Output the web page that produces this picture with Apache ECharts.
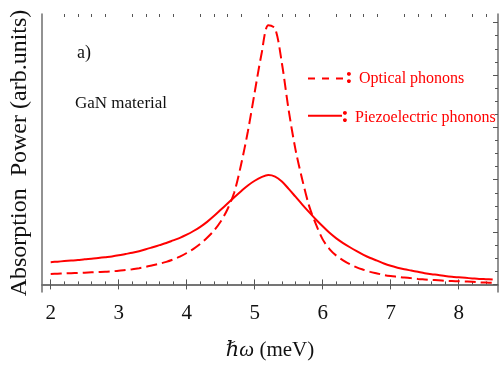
<!DOCTYPE html>
<html>
<head>
<meta charset="utf-8">
<script src="https://cdn.jsdelivr.net/npm/echarts@6/dist/echarts.min.js"></script>
<style>
  html, body { margin: 0; padding: 0; background: #fff; }
  #chart { width: 499px; height: 366px; }
</style>
</head>
<body>
<div id="chart"></div>
<script>
// photon energy (meV), 0.1 steps, shared by both curves
const energy = [2.0, 2.1, 2.2, 2.3, 2.4, 2.5, 2.6, 2.7, 2.8, 2.9,
  3.0, 3.1, 3.2, 3.3, 3.4, 3.5, 3.6, 3.7, 3.8, 3.9,
  4.0, 4.1, 4.2, 4.3, 4.4, 4.5, 4.6, 4.7, 4.8, 4.9,
  5.0, 5.1, 5.2, 5.3, 5.4, 5.5, 5.6, 5.7, 5.8, 5.9,
  6.0, 6.1, 6.2, 6.3, 6.4, 6.5, 6.6, 6.7, 6.8, 6.9,
  7.0, 7.1, 7.2, 7.3, 7.4, 7.5, 7.6, 7.7, 7.8, 7.9,
  8.0, 8.1, 8.2, 8.3, 8.4, 8.5]
const optical = [0.040, 0.041, 0.042, 0.043, 0.044, 0.045, 0.046, 0.047, 0.048, 0.050,
  0.052, 0.055, 0.058, 0.062, 0.067, 0.073, 0.079, 0.086, 0.095, 0.106,
  0.120, 0.136, 0.155, 0.178, 0.205, 0.240, 0.287, 0.352, 0.458, 0.585,
  0.734, 0.880, 0.990, 0.978, 0.845, 0.665, 0.515, 0.400, 0.300, 0.230,
  0.172, 0.135, 0.110, 0.092, 0.077, 0.065, 0.056, 0.048, 0.042, 0.036,
  0.032, 0.029, 0.026, 0.024, 0.021, 0.019, 0.017, 0.016, 0.014, 0.013,
  0.012, 0.011, 0.010, 0.008, 0.007, 0.006]
const piezo = [0.085, 0.087, 0.089, 0.091, 0.093, 0.096, 0.098, 0.101, 0.104, 0.107,
  0.111, 0.116, 0.121, 0.127, 0.134, 0.142, 0.150, 0.158, 0.168, 0.178,
  0.190, 0.204, 0.220, 0.239, 0.261, 0.285, 0.309, 0.333, 0.356, 0.378,
  0.396, 0.410, 0.418, 0.412, 0.393, 0.365, 0.335, 0.305, 0.276, 0.248,
  0.222, 0.197, 0.176, 0.158, 0.142, 0.127, 0.113, 0.101, 0.091, 0.080,
  0.071, 0.064, 0.058, 0.053, 0.048, 0.043, 0.039, 0.036, 0.032, 0.029,
  0.027, 0.025, 0.023, 0.021, 0.020, 0.019]
const xTicks = [2, 3, 4, 5, 6, 7, 8]
const yTicks = [0, 0.2, 0.4, 0.6, 0.8, 1.0]

const xMinor = []
for (let i = 1; i <= 32; i++) {
  const v = +(2 + i * 0.2).toFixed(2)
  if (Math.abs(v - Math.round(v)) > 1e-6 && v < 8.5) xMinor.push(v)
}
const yMinor = []
for (let i = 1; i < 20; i++) {
  if (i % 4 !== 0) yMinor.push(+(i * 0.05).toFixed(2))
}

const serif = 'Liberation Serif, DejaVu Serif, serif'
const frame = { show: true, lineStyle: { color: '#6e6e6e', width: 1.5 } }
const red = '#ff0000'

const pairs = vals => energy.map((x, i) => [x, vals[i]])

const chart = echarts.init(document.getElementById('chart'))
const option = {
  animation: false,
  grid: { left: 42, right: 1, top: 14, bottom: 70 },
  xAxis: [
    {
      type: 'value', position: 'bottom', min: 1.872, max: 8.578,
      axisLine: frame, splitLine: { show: false },
      axisTick: { show: true, inside: true, length: 5, customValues: xTicks, lineStyle: { color: '#555' } },
      axisLabel: { customValues: xTicks, margin: 11, fontFamily: serif, fontSize: 21, color: '#111' },
      name: '{i|ℏω} (meV)', nameLocation: 'middle', nameGap: 48,
      nameTextStyle: {
        fontFamily: serif, fontSize: 21, color: '#111',
        rich: { i: { fontFamily: serif, fontStyle: 'italic', fontSize: 21, color: '#111' } }
      }
    },
    {
      type: 'value', position: 'bottom', min: 1.872, max: 8.578,
      axisLine: { show: false }, splitLine: { show: false }, axisLabel: { show: false },
      axisTick: { show: true, inside: true, length: 3, customValues: xMinor, lineStyle: { color: '#555' } }
    },
    {
      type: 'value', position: 'top', min: 1.872, max: 8.578,
      axisLine: frame, splitLine: { show: false }, axisLabel: { show: false },
      axisTick: { show: true, inside: true, length: 5, customValues: xTicks, lineStyle: { color: '#555' } }
    },
    {
      type: 'value', position: 'top', min: 1.872, max: 8.578,
      axisLine: { show: false }, splitLine: { show: false }, axisLabel: { show: false },
      axisTick: { show: true, inside: true, length: 3, customValues: xMinor, lineStyle: { color: '#555' } }
    }
  ],
  yAxis: [
    {
      type: 'value', position: 'left', min: -0.029, max: 1.033,
      axisLine: frame, splitLine: { show: false }, axisTick: { show: false }, axisLabel: { show: false },
      name: 'Absorption  Power (arb.units)', nameLocation: 'middle', nameRotate: 90, nameGap: 10,
      nameTextStyle: { fontFamily: serif, fontSize: 24, color: '#111' }
    },
    {
      type: 'value', position: 'right', min: -0.029, max: 1.033,
      axisLine: frame, splitLine: { show: false }, axisLabel: { show: false },
      axisTick: { show: true, inside: true, length: 5, customValues: yTicks, lineStyle: { color: '#555' } }
    },
    {
      type: 'value', position: 'right', min: -0.029, max: 1.033,
      axisLine: { show: false }, splitLine: { show: false }, axisLabel: { show: false },
      axisTick: { show: true, inside: true, length: 3, customValues: yMinor, lineStyle: { color: '#555' } }
    }
  ],
  series: [
    {
      name: 'Optical phonons', type: 'line', smooth: 0.3, symbol: 'none',
      xAxisIndex: 0, yAxisIndex: 0, data: pairs(optical),
      lineStyle: { color: red, width: 2, type: [11, 5] }
    },
    {
      name: 'Piezoelectric phonons', type: 'line', smooth: 0.3, symbol: 'none',
      xAxisIndex: 0, yAxisIndex: 0, data: pairs(piezo),
      lineStyle: { color: red, width: 2 }
    }
  ],
  graphic: [
    { type: 'text', left: 77, top: 44, style: { text: 'a)', font: '18px ' + serif, fill: '#111' } },
    { type: 'text', left: 75, top: 95, style: { text: 'GaN material', font: '17px ' + serif, fill: '#111' } },
    { type: 'line', shape: { x1: 308, y1: 78.5, x2: 343, y2: 78.5 }, style: { stroke: red, lineWidth: 2, lineDash: [7, 7] } },
    { type: 'text', left: 345, top: 65, style: { text: ':', font: 'bold 24px ' + serif, fill: red } },
    { type: 'text', left: 359, top: 71, style: { text: 'Optical phonons', font: '16px ' + serif, fill: red } },
    { type: 'line', shape: { x1: 308, y1: 115.7, x2: 342, y2: 115.7 }, style: { stroke: red, lineWidth: 2 } },
    { type: 'text', left: 341, top: 104, style: { text: ':', font: 'bold 24px ' + serif, fill: red } },
    { type: 'text', left: 355, top: 110, style: { text: 'Piezoelectric phonons', font: '16px ' + serif, fill: red } }
  ]
}
chart.setOption(option)
window.addEventListener('resize', () => {
  chart.resize()
})
</script>
</body>
</html>
